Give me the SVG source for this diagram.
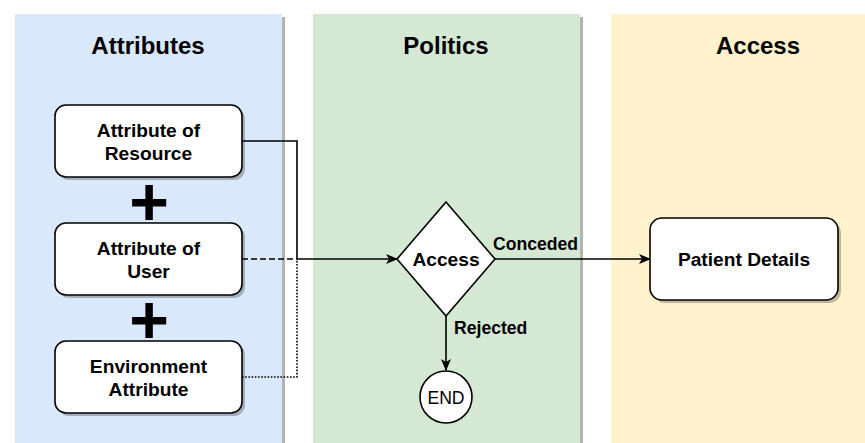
<svg xmlns="http://www.w3.org/2000/svg" width="865" height="443" viewBox="0 0 865 443">
<defs>
<style>
.lane-shadow{fill:#b3b3b3}
.box{fill:#ffffff;stroke:#000000;stroke-width:1.6}
.shadow{fill:#000000;opacity:0.25}
.head{font-family:"Liberation Sans",Arial,sans-serif;font-weight:bold;font-size:24px;text-anchor:middle;fill:#000}
.lbl{font-family:"Liberation Sans",Arial,sans-serif;font-weight:bold;font-size:19.2px;text-anchor:middle;fill:#000}
.elbl{font-family:"Liberation Sans",Arial,sans-serif;font-weight:bold;font-size:17.6px;fill:#000}
.plus{font-family:"Liberation Sans",Arial,sans-serif;font-weight:bold;font-size:68px;text-anchor:middle;fill:#000}
.conn{fill:none;stroke:#000;stroke-width:1.6}
</style>
<marker id="arr" viewBox="0 0 12 10" refX="11" refY="5" markerWidth="12" markerHeight="10" markerUnits="userSpaceOnUse" orient="auto">
<path d="M0,0 L12,5 L0,10 L3,5 Z" fill="#000"/>
</marker>
</defs>

<g id="lane-attributes">
<rect class="lane-shadow" x="18" y="17" width="267" height="440"/>
<rect x="15" y="14" width="267" height="440" fill="#dae8fc"/>
<text class="head" x="148" y="54">Attributes</text>
</g>
<g id="lane-politics">
<rect class="lane-shadow" x="316" y="17" width="267" height="440"/>
<rect x="313" y="14" width="267" height="440" fill="#d5e8d4"/>
<text class="head" x="446" y="54">Politics</text>
</g>
<g id="lane-access">
<rect x="611" y="14" width="300" height="440" fill="#fff2cc"/>
<text class="head" x="758" y="54">Access</text>
</g>

<g id="connectors">
<path class="conn" d="M242,141 H297 V259"/>
<path class="conn" d="M242,259 H297" stroke-dasharray="6 3"/>
<path class="conn" d="M242,377 H297 V259" stroke-dasharray="1.6 1.6"/>
<path class="conn" d="M297,259 H397" marker-end="url(#arr)"/>
<path class="conn" d="M446,316 V370" marker-end="url(#arr)"/>
<path class="conn" d="M495,259 H650" marker-end="url(#arr)"/>
<text class="elbl" x="493" y="250">Conceded</text>
<text class="elbl" x="454" y="334">Rejected</text>
</g>

<g id="node-resource">
<rect class="shadow" x="58" y="108" width="187" height="72" rx="11"/>
<rect class="box" x="55" y="105" width="187" height="72" rx="11"/>
<text class="lbl" x="148.5" y="136.5">Attribute of</text>
<text class="lbl" x="148.5" y="160">Resource</text>
</g>
<g id="plus-1"><text class="plus" x="149" y="225">+</text></g>
<g id="node-user">
<rect class="shadow" x="58" y="226" width="187" height="72" rx="11"/>
<rect class="box" x="55" y="223" width="187" height="72" rx="11"/>
<text class="lbl" x="148.5" y="254.5">Attribute of</text>
<text class="lbl" x="148.5" y="278">User</text>
</g>
<g id="plus-2"><text class="plus" x="149" y="342.5">+</text></g>
<g id="node-environment">
<rect class="shadow" x="58" y="344" width="187" height="72" rx="11"/>
<rect class="box" x="55" y="341" width="187" height="72" rx="11"/>
<text class="lbl" x="148.5" y="372.5">Environment</text>
<text class="lbl" x="148.5" y="396">Attribute</text>
</g>

<g id="node-decision">
<polygon class="box" points="446,202 495,259 446,316 397,259"/>
<text class="lbl" x="446" y="266">Access</text>
</g>
<g id="node-end">
<circle class="box" cx="446" cy="397" r="26"/>
<text x="446" y="403.5" font-family="Liberation Sans, Arial, sans-serif" font-size="17.6" text-anchor="middle">END</text>
</g>
<g id="node-patient">
<rect class="shadow" x="653" y="221" width="188" height="82" rx="12"/>
<rect class="box" x="650" y="218" width="188" height="82" rx="12"/>
<text class="lbl" x="744" y="266">Patient Details</text>
</g>
</svg>
